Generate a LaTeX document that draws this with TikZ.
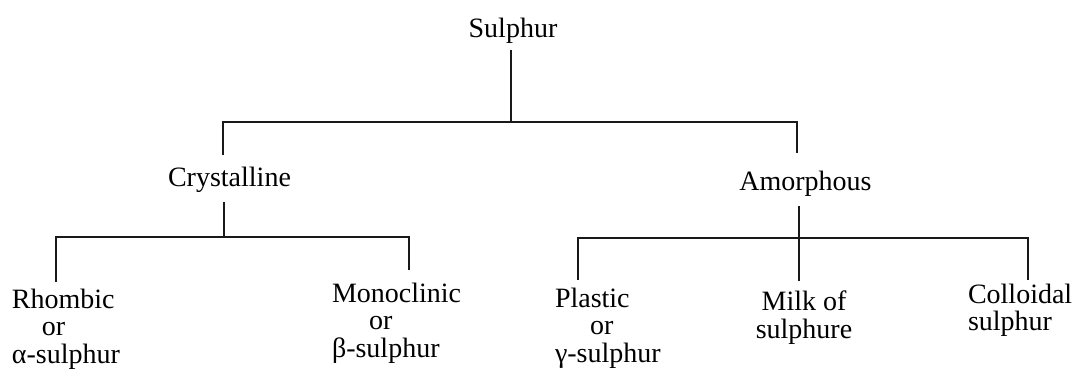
\documentclass[tikz,border=0pt]{standalone}
\usepackage{fontspec}
\setmainfont{Liberation Serif}
\begin{document}
\begin{tikzpicture}[x=1pt,y=-1pt,
  lbl/.style={inner sep=0pt,outer sep=0pt,font=\fontsize{28}{27.5}\selectfont},
  conn/.style={draw=black!90,line width=2pt}]
\useasboundingbox[fill=white] (0,0) rectangle (1077,380);
% text nodes
\node[lbl,anchor=base] (sulphur) at (513,37) {Sulphur};
\node[lbl,anchor=base] (crys) at (229.5,186) {Crystalline};
\node[lbl,anchor=base] (amor) at (805.5,190) {Amorphous};
\node[lbl,anchor=north west,align=left] (rhom) at (12,289) {Rhombic\\\hspace*{30pt}or\\α-sulphur};
\node[lbl,anchor=north west,align=left] (mono) at (332,283) {Monoclinic\\\hspace*{37pt}or\\β-sulphur};
\node[lbl,anchor=north west,align=left] (plas) at (555,288) {Plastic\\\hspace*{35pt}or\\γ-sulphur};
\node[lbl,anchor=north,align=center] (milk) at (804,291) {Milk of\\sulphure};
\node[lbl,anchor=north west,align=left] (coll) at (968,284) {Colloidal\\sulphur};
% junction coordinates
\coordinate (sOut) at (511,50);
\coordinate (sBar) at (511,122);
\coordinate (cBar) at (223,122);
\coordinate (aBar) at (797,122);
\coordinate (cIn) at (223,155);
\coordinate (aIn) at (797,153);
\coordinate (cOut) at (224,202);
\coordinate (cMid) at (224,237);
\coordinate (rBar) at (56,237);
\coordinate (mBar) at (409,237);
\coordinate (rIn) at (56,282);
\coordinate (mIn) at (409,270);
\coordinate (aOut) at (799,206);
\coordinate (aMid) at (799,238);
\coordinate (pBar) at (578,238);
\coordinate (kBar) at (1028,238);
\coordinate (pIn) at (578,280);
\coordinate (kIn) at (1028,280);
\coordinate (mkIn) at (799,281);
% connectors
\draw[conn] (sOut) -- (sBar);
\draw[conn] (cIn) -- (cBar) -- (aBar) -- (aIn);
\draw[conn] (cOut) -- (cMid);
\draw[conn] (rIn) -- (rBar) -- (mBar) -- (mIn);
\draw[conn] (aOut) -- (aMid) -- (mkIn);
\draw[conn] (pIn) -- (pBar) -- (kBar) -- (kIn);
\end{tikzpicture}
\end{document}
